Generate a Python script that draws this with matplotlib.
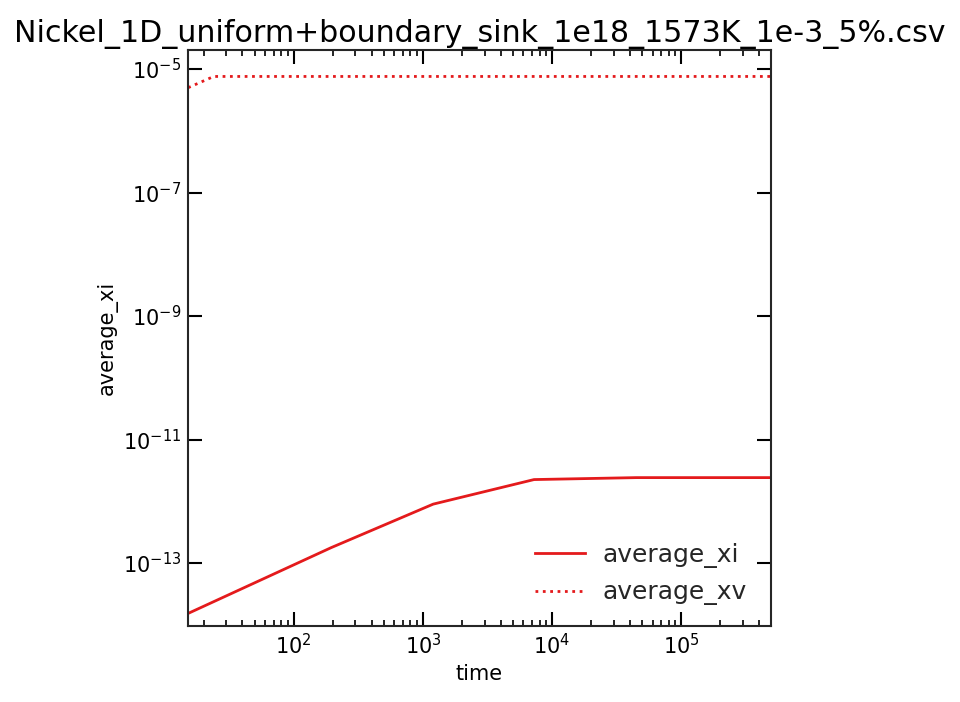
import numpy as np
import matplotlib.pyplot as plt

# values
time_xi = [15.2, 195, 1200, 7250, 45000, 4.95e5]
average_xi = [1.53e-14, 1.78e-13, 9.0e-13, 2.25e-12, 2.42e-12, 2.42e-12]
time_xv = [15.2, 24, 195, 1200, 7250, 45000, 4.95e5]
average_xv = [5.0e-6, 7.6e-6, 7.6e-6, 7.6e-6, 7.6e-6, 7.6e-6, 7.6e-6]

red = "#e41a1c"

fig = plt.figure(figsize=(9.6, 7.02), dpi=100)
ax = fig.add_axes([0.196, 0.108, 0.607, 0.821])

ax.plot(time_xi, average_xi, color=red, lw=2, label="average_xi")
ax.plot(time_xv, average_xv, color=red, lw=2, ls=":", label="average_xv")

ax.set_xscale("log")
ax.set_yscale("log")
ax.set_xlim(15.2, 4.95e5)
ax.set_ylim(9.5e-15, 2.05e-5)

ax.tick_params(which="both", direction="in", top=True, right=True, labelsize=15)
ax.tick_params(which="major", length=10, width=1.5, pad=5)
ax.tick_params(which="minor", length=4, width=1.2)
for s in ax.spines.values():
    s.set_linewidth(1.5)
    s.set_color("#262626")

ax.set_xlabel("time", fontsize=15)
ax.set_ylabel("average_xi", fontsize=15)
ax.set_title("Nickel_1D_uniform+boundary_sink_1e18_1573K_1e-3_5%.csv", fontsize=21.6)

leg = ax.legend(frameon=False, fontsize=18, loc="lower right", borderaxespad=0.55,
                labelspacing=0.5, handletextpad=0.7, bbox_to_anchor=(1, -0.005))
for t in leg.get_texts():
    t.set_color("#262626")

fig.savefig("out.png", dpi=100)
